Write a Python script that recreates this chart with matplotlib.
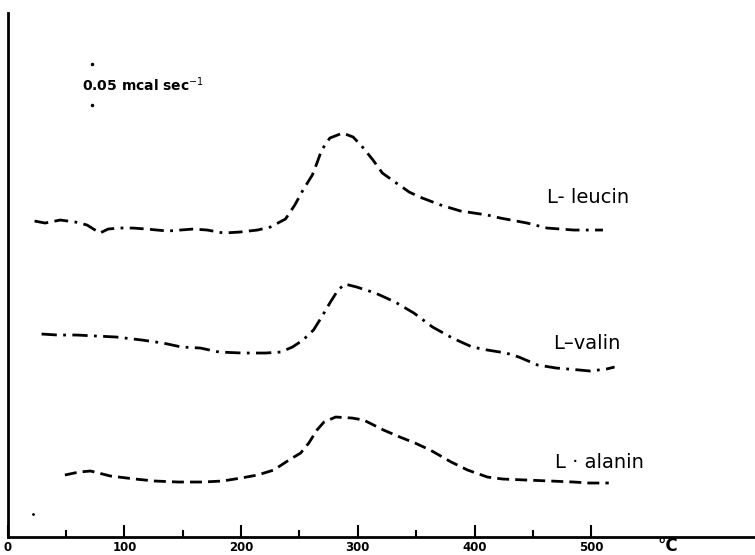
import numpy as np
import matplotlib.pyplot as plt

# temperature (°C) and heat flow (arbitrary units)
leucin_t = [23, 32, 45, 58, 68, 79, 86, 96, 107, 119, 137, 159, 171, 185, 199,
            214, 225, 238, 246, 253, 261, 265, 269, 276, 287, 296, 304, 313,
            321, 333, 344, 353, 371, 388, 411, 422, 445, 462, 485, 510]
leucin_y = [31.6, 31.4, 31.7, 31.5, 31.2, 30.4, 30.8, 30.9, 30.9, 30.8, 30.6,
            30.8, 30.7, 30.4, 30.5, 30.7, 31.0, 31.8, 33.2, 34.7, 36.2, 37.4,
            38.7, 39.9, 40.4, 40.0, 39.0, 37.7, 36.4, 35.4, 34.5, 34.0, 33.2,
            32.6, 32.2, 31.9, 31.4, 30.9, 30.7, 30.7]

valin_t = [29, 43, 59, 76, 93, 115, 133, 149, 165, 181, 201, 221, 234, 244,
           253, 262, 269, 276, 283, 289, 299, 315, 332, 348, 364, 381, 398,
           411, 427, 438, 454, 470, 490, 499, 513, 520]
valin_y = [20.3, 20.2, 20.2, 20.1, 20.0, 19.7, 19.4, 19.0, 18.9, 18.5, 18.4,
           18.4, 18.5, 19.0, 19.7, 20.7, 22.0, 23.4, 24.7, 25.3, 25.0, 24.4,
           23.5, 22.4, 21.0, 19.9, 19.0, 18.7, 18.4, 18.0, 17.2, 16.9, 16.7,
           16.6, 16.8, 17.0]

alanin_t = [49, 61, 71, 88, 109, 126, 146, 167, 184, 200, 214, 228, 241, 251,
            258, 265, 271, 281, 295, 305, 322, 336, 349, 362, 380, 394, 411,
            424, 444, 465, 485, 498, 515]
alanin_y = [6.2, 6.5, 6.6, 6.1, 5.8, 5.6, 5.5, 5.5, 5.6, 5.9, 6.2, 6.7, 7.7,
            8.4, 9.4, 10.7, 11.5, 12.0, 11.9, 11.7, 10.7, 10.0, 9.4, 8.7, 7.5,
            6.7, 6.0, 5.8, 5.7, 5.6, 5.5, 5.4, 5.4]

names = ['L- leucin', 'L\u2013valin', 'L \u00b7 alanin']
label_pos = [(462, 34.0), (467, 19.4), (469, 7.5)]

fig = plt.figure(figsize=(7.55, 5.55), dpi=100)
ax = fig.add_axes([0.0102, 0.0324, 0.9898, 0.9441])

ax.plot(leucin_t, leucin_y, color='black', lw=2,
        linestyle=(0, (5, 2.3, 5, 2.3, 1, 2.3)))
ax.plot(valin_t, valin_y, color='black', lw=2,
        linestyle=(0, (5.5, 2.3, 1, 2.3)))
ax.plot(alanin_t, alanin_y, color='black', lw=2,
        linestyle=(0, (4.3, 2.2)))

for name, (tx, ty) in zip(names, label_pos):
    ax.text(tx, ty, name, fontsize=14, va='center', ha='left')

# scale bar
ax.plot([72, 72], [47.3, 43.2], 'k.', ms=3)
ax.text(64, 45.2, '0.05 mcal sec$^{-1}$', fontsize=10, fontweight='bold',
        va='center', ha='left')
ax.plot([22], [2.3], 'k.', ms=2)

ax.set_xlim(0, 640.3)
ax.set_ylim(0, 52.4)
ax.set_xticks([0, 100, 200, 300, 400, 500])
ax.set_xticks([50, 150, 250, 350, 450], minor=True)
ax.set_yticks([])
ax.tick_params(axis='x', direction='in', length=9, width=1.5, labelsize=8.5, pad=3)
ax.tick_params(axis='x', which='minor', direction='in', length=5, width=1.5)
for lbl in ax.get_xticklabels():
    lbl.set_fontweight('bold')
ax.text(566, -0.9, '\u00b0C', fontsize=12, fontweight='bold', va='center', ha='center',
        clip_on=False)

for s in ['top', 'right']:
    ax.spines[s].set_visible(False)
ax.spines['left'].set_linewidth(2)
ax.spines['bottom'].set_linewidth(2)

fig.savefig('out.png', dpi=100)
